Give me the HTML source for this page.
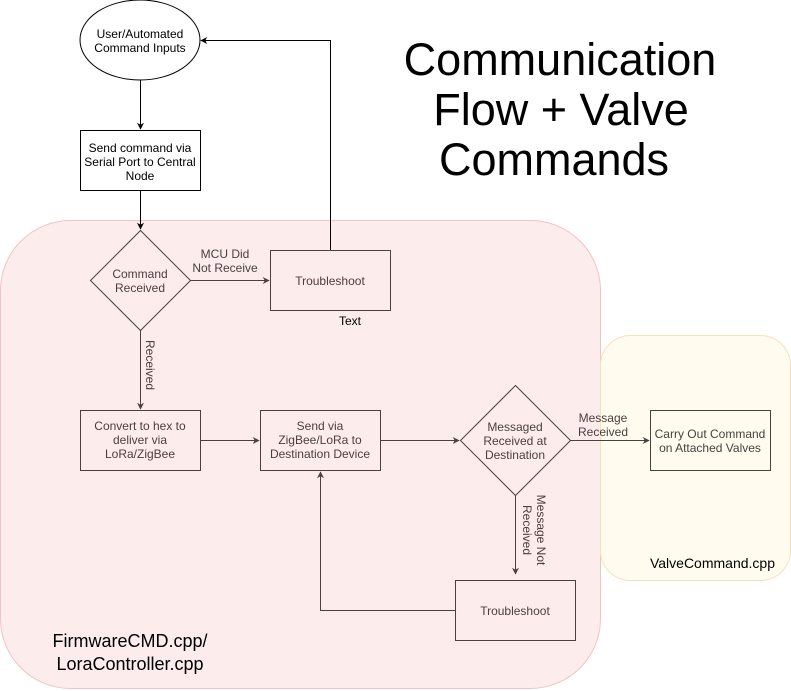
<!DOCTYPE html>
<html><head><meta charset="utf-8"><style>
html,body{margin:0;padding:0;background:#fff;}
svg{display:block;font-family:"Liberation Sans",Arial,sans-serif;}
</style></head><body>
<svg width="791" height="691" viewBox="0 0 791 691" xmlns="http://www.w3.org/2000/svg">
<defs>
<marker id="a" viewBox="0 0 10 10" refX="9" refY="5" markerWidth="7" markerHeight="7" orient="auto" markerUnits="userSpaceOnUse"><path d="M0,0 L10,5 L0,10 L3,5 z" fill="#000"/></marker>
<marker id="b" viewBox="0 0 10 10" refX="9" refY="5" markerWidth="7" markerHeight="7" orient="auto" markerUnits="userSpaceOnUse"><path d="M0,0 L10,5 L0,10 L3,5 z" fill="#4a4040"/></marker>
</defs>
<rect x="0.5" y="220.5" width="600" height="468" rx="70" fill="#fcecec" stroke="#f0c4c4"/>
<rect x="600.5" y="335.5" width="190" height="245" rx="30" fill="#fffbef" stroke="#f3e3bc"/>
<g fill="none" stroke="#000" stroke-width="1">
<ellipse cx="140" cy="40" rx="60" ry="40" fill="#fff"/>
<rect x="80.5" y="130.5" width="120" height="60" fill="#fff"/>
<line x1="140.5" y1="80" x2="140.5" y2="129" marker-end="url(#a)"/>
<line x1="140.5" y1="190" x2="140.5" y2="229" marker-end="url(#a)"/>
<polyline points="330.5,250 330.5,40.5 201,40.5" marker-end="url(#a)"/>
</g>
<g fill="none" stroke="#4a4040" stroke-width="1">
<polygon points="140.5,230.5 190.5,280.5 140.5,330.5 90.5,280.5"/>
<rect x="270.5" y="250.5" width="120" height="60"/>
<line x1="190" y1="280.5" x2="269" y2="280.5" marker-end="url(#b)"/>
<line x1="140.5" y1="330" x2="140.5" y2="409" marker-end="url(#b)"/>
<rect x="80.5" y="410.5" width="120" height="60"/>
<rect x="260.5" y="410.5" width="120" height="60"/>
<line x1="200" y1="440.5" x2="259" y2="440.5" marker-end="url(#b)"/>
<polygon points="515.5,385.5 570.5,440.5 515.5,495.5 460.5,440.5"/>
<line x1="380" y1="440.5" x2="459" y2="440.5" marker-end="url(#b)"/>
<rect x="650.5" y="410.5" width="120" height="60"/>
<line x1="570" y1="440.5" x2="649" y2="440.5" marker-end="url(#b)"/>
<line x1="515.5" y1="495" x2="515.5" y2="574" marker-end="url(#b)"/>
<rect x="455.5" y="580.5" width="120" height="60"/>
<polyline points="455,610.5 320.5,610.5 320.5,472" marker-end="url(#b)"/>
</g>
<g font-size="12" text-anchor="middle" fill="#000">
<text x="140" y="38">User/Automated</text>
<text x="140" y="52">Command Inputs</text>
<text x="140" y="152">Send command via</text>
<text x="140" y="166">Serial Port to Central</text>
<text x="140" y="180">Node</text>
<text x="350" y="325">Text</text>
</g>
<g font-size="12" text-anchor="middle" fill="#4a4040">
<text x="140" y="278">Command</text>
<text x="140" y="292">Received</text>
<text x="225" y="258">MCU Did</text>
<text x="225" y="272">Not Receive</text>
<text x="330" y="285">Troubleshoot</text>
<text x="140" y="430">Convert to hex to</text>
<text x="140" y="444">deliver via</text>
<text x="140" y="458">LoRa/ZigBee</text>
<text x="320" y="430">Send via</text>
<text x="320" y="444">ZigBee/LoRa to</text>
<text x="320" y="458">Destination Device</text>
<text x="515" y="431">Messaged</text>
<text x="515" y="445">Received at</text>
<text x="515" y="459">Destination</text>
<text x="603" y="422">Message</text>
<text x="603" y="436">Received</text>
<text x="710" y="438">Carry Out Command</text>
<text x="710" y="452">on Attached Valves</text>
<text x="515" y="615">Troubleshoot</text>
<text transform="translate(146,365) rotate(90)">Received</text>
<text transform="translate(537,530) rotate(90)">Message Not</text>
<text transform="translate(523,530) rotate(90)">Received</text>
</g>
<g font-size="45" text-anchor="middle" fill="#000">
<text x="560" y="75">Communication</text>
<text x="561" y="125">Flow + Valve</text>
<text x="554" y="175">Commands</text>
</g>
<g font-size="18" text-anchor="middle" fill="#000">
<text x="130" y="647">FirmwareCMD.cpp/</text>
<text x="130" y="670">LoraController.cpp</text>
</g>
<text x="775" y="568" font-size="14" text-anchor="end" fill="#000">ValveCommand.cpp</text>
</svg>
</body></html>
